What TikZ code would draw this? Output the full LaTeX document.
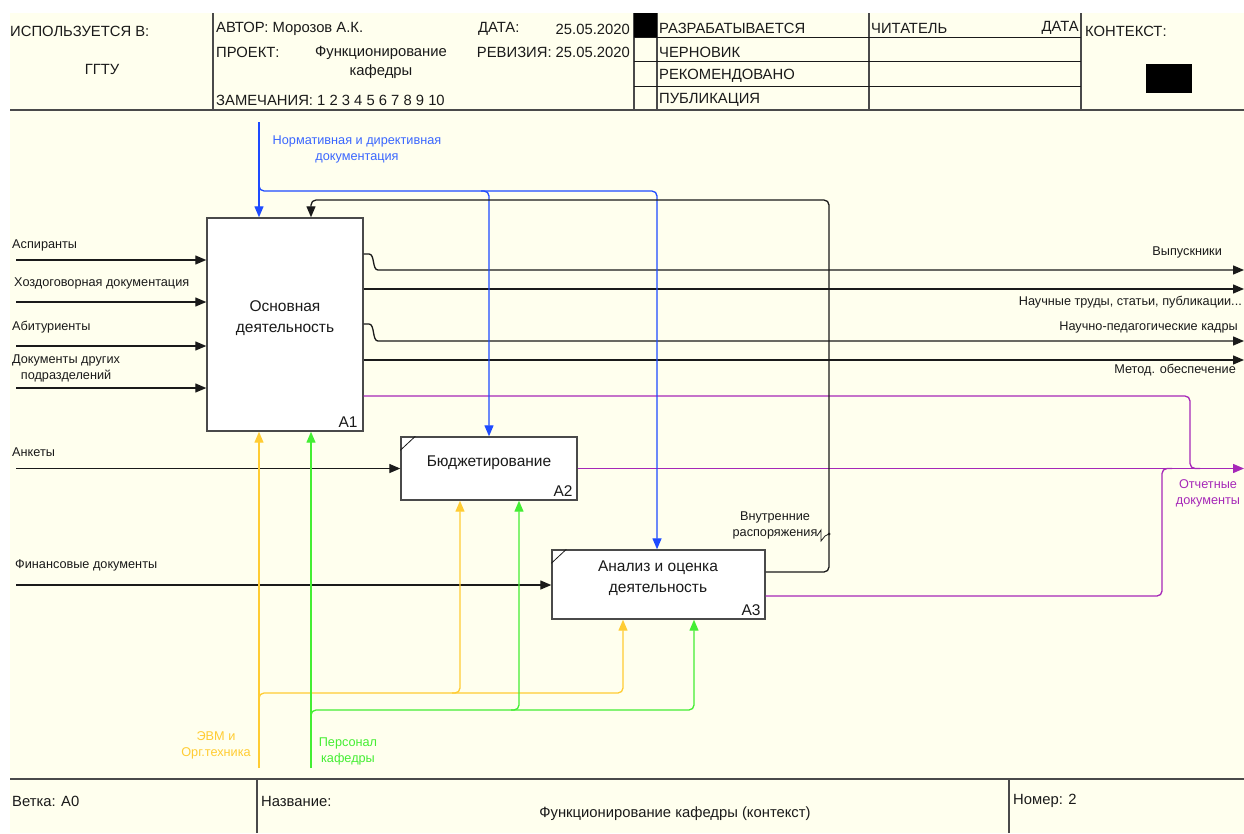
\documentclass[tikz,border=0pt]{standalone}
\usepackage{fontspec}
\setmainfont{Liberation Sans}
\usetikzlibrary{arrows.meta,calc}
\definecolor{paper}{HTML}{FFFFEE}
\definecolor{ink}{HTML}{1A1A1A}
\definecolor{frame}{HTML}{4A4A4A}
\definecolor{ctlblue}{HTML}{1E4BFF}
\definecolor{ctltext}{HTML}{3A66FF}
\definecolor{outpurple}{HTML}{A628B8}
\definecolor{mechyellow}{HTML}{FFCC33}
\definecolor{mechgreen}{HTML}{44EE33}
\begin{document}
\begin{tikzpicture}[x=1pt,y=-1pt,
  hdr/.style={font=\fontsize{14.8}{17}\selectfont, inner sep=0pt, text=ink},
  lbl/.style={font=\fontsize{12.7}{16}\selectfont, inner sep=0pt, text=ink, align=center},
  boxtxt/.style={font=\fontsize{15.5}{21}\selectfont, align=center, inner sep=0pt, text=ink},
  fbox/.style={draw=frame, fill=white, line width=1.4pt, inner sep=0pt},
  rule/.style={draw=frame, line width=1.3pt},
  thinrule/.style={draw=ink, line width=1pt},
  tip/.style={-{Triangle[length=11pt,width=9pt]}},
  link/.style={line width=1.3pt, draw=ink},
  ctl/.style={line width=1.3pt, draw=ctlblue},
  outp/.style={line width=1.3pt, draw=outpurple},
  mechy/.style={line width=1.3pt, draw=mechyellow},
  mechg/.style={line width=1.3pt, draw=mechgreen},
  corner/.style={rounded corners=5pt}
]
\useasboundingbox (0,0) rectangle (1244,833);
\fill[white] (0,0) rectangle (1244,833);
\fill[paper] (10,13) rectangle (1244,833);

% ---------- title block (top) ----------
\draw[rule] (10,110) -- (1244,110);
\draw[rule] (213,13) -- (213,110);
\draw[rule] (634,13) -- (634,110);
\draw[rule] (657,13) -- (657,110);
\draw[rule] (869,13) -- (869,110);
\draw[rule] (1081,13) -- (1081,110);
\foreach \yy in {37,61,86} \draw[thinrule] (634,\yy) -- (1081,\yy);
\fill[black] (634,13) rectangle (657,37);
\fill[black] (1146,64) rectangle (1192,93);

\node[hdr, anchor=west] (usedin) at (10,31) {ИСПОЛЬЗУЕТСЯ В:};
\node[hdr] (org) at (102,69) {ГГТУ};
\node[hdr, anchor=west] (author) at (216,29) {АВТОР: Морозов А.К.};
\node[hdr, anchor=west] (datelbl) at (478,29) {ДАТА:};
\node[hdr, anchor=east] (dateval) at (630,29) {25.05.2020};
\node[hdr, anchor=west] (projlbl) at (216,52) {ПРОЕКТ:};
\node[hdr, align=center, font=\fontsize{14.8}{19}\selectfont] (projval) at (381,62) {Функционирование\\кафедры};
\node[hdr, anchor=east] (rev) at (630,52) {РЕВИЗИЯ: 25.05.2020};
\node[hdr, anchor=west] (notes) at (216,100) {ЗАМЕЧАНИЯ: 1 2 3 4 5 6 7 8 9 10};
\node[hdr, anchor=west] (st1) at (659,28) {РАЗРАБАТЫВАЕТСЯ};
\node[hdr, anchor=west] (st2) at (659,52) {ЧЕРНОВИК};
\node[hdr, anchor=west] (st3) at (659,76) {РЕКОМЕНДОВАНО};
\node[hdr, anchor=west] (st4) at (659,100) {ПУБЛИКАЦИЯ};
\node[hdr, anchor=west] (reader) at (871,28) {ЧИТАТЕЛЬ};
\node[hdr, anchor=east] (rdate) at (1079,28) {ДАТА};
\node[hdr, anchor=west] (context) at (1085,31) {КОНТЕКСТ:};

% ---------- title block (bottom) ----------
\draw[rule] (10,779) -- (1244,779);
\draw[rule] (257,779) -- (257,833);
\draw[rule] (1009,779) -- (1009,833);
\node[hdr, anchor=west] (node) at (12,801) {Ветка: А0};
\node[hdr, anchor=west] (title) at (261,801) {Название:};
\node[hdr] (titleval) at (675,814) {Функционирование кафедры (контекст)};
\node[hdr, anchor=west] (number) at (1013,801) {Номер: 2};

% ---------- activity boxes ----------
\node[fbox, minimum width=156pt, minimum height=213pt] (A1) at (285,324.5) {};
\node[fbox, minimum width=176pt, minimum height=63pt] (A2) at (489,468.5) {};
\node[fbox, minimum width=213pt, minimum height=69pt] (A3) at (658.5,584.5) {};
\draw[ink, line width=0.8pt] ($(A2.north west)+(0,14)$) -- ($(A2.north west)+(15,0)$);
\draw[ink, line width=0.8pt] ($(A3.north west)+(0,14)$) -- ($(A3.north west)+(15,0)$);
\node[boxtxt] (A1t) at (285,318) {Основная\\деятельность};
\node[boxtxt, anchor=south east] (A1n) at ($(A1.south east)+(-6,-4)$) {A1};
\node[boxtxt] (A2t) at (489,463) {Бюджетирование};
\node[boxtxt, anchor=south east] (A2n) at ($(A2.south east)+(-5,-4)$) {A2};
\node[boxtxt] (A3t) at (658,578) {Анализ и оценка\\деятельность};
\node[boxtxt, anchor=south east] (A3n) at ($(A3.south east)+(-5,-4)$) {A3};

% ---------- inputs ----------
\coordinate (i1) at (16,260);
\coordinate (i2) at (16,302);
\coordinate (i3) at (16,346);
\coordinate (i4) at (16,388);
\coordinate (i5) at (16,468.5);
\coordinate (i6) at (16,585);
\draw[link,tip] (i1) -- (A1.west |- i1);
\draw[link,tip] (i2) -- (A1.west |- i2);
\draw[link,tip] (i3) -- (A1.west |- i3);
\draw[link,tip] (i4) -- (A1.west |- i4);
\draw[link,tip] (i5) -- (A2.west |- i5);
\draw[link,tip] (i6) -- (A3.west |- i6);
\node[lbl, anchor=west] (li1) at (12,245) {Аспиранты};
\node[lbl, anchor=west] (li2) at (14,283) {Хоздоговорная документация};
\node[lbl, anchor=west] (li3) at (12,327) {Абитуриенты};
\node[lbl, anchor=west] (li4) at (12,368) {Документы других\\подразделений};
\node[lbl, anchor=west] (li5) at (12,452) {Анкеты};
\node[lbl, anchor=west] (li6) at (15,565) {Финансовые документы};

% ---------- outputs of A1 ----------
\coordinate (o1) at (1244,270);
\coordinate (o2) at (1244,289);
\coordinate (o3) at (1244,341);
\coordinate (o4) at (1244,360);
\coordinate (o5) at (1244,468.5);
\draw[link,tip] (A1.east |- 0,254) -- (369,254) .. controls (375,254) and (372,270) .. (378,270) -- (o1);
\draw[link,tip] (A1.east |- o2) -- (o2);
\draw[link,tip] (A1.east |- 0,324) -- (369,324) .. controls (375,324) and (372,341) .. (378,341) -- (o3);
\draw[link,tip] (A1.east |- o4) -- (o4);
\node[lbl, anchor=east] (lo1) at (1222,252) {Выпускники};
\node[lbl, anchor=east] (lo2) at (1242,302) {Научные труды, статьи, публикации...};
\node[lbl, anchor=east] (lo3) at (1238,327) {Научно-педагогические кадры};
\node[lbl, anchor=east] (lo4) at (1236,370) {Метод. обеспечение};

% ---------- report documents (purple) ----------
\draw[outp,corner] (A1.east |- 0,396) -- (1190,396) -- (1190,468.5) -- (1200,468.5);
\draw[outp,corner] (A3.east |- 0,596) -- (1162,596) -- (1162,468.5) -- (1172,468.5);
\draw[outp,tip] (A2.east) -- (o5);
\node[lbl, text=outpurple] (lo5) at (1208,493) {Отчетные\\документы};

% ---------- controls (blue) ----------
\coordinate (c0) at (259,122);
\draw[ctl,tip] (c0) -- (A1.north -| c0);
\draw[ctl,corner,tip] (259,184) -- (259,191) -- (657,191) -- (A3.north -| 657,0);
\draw[ctl,corner,tip] (481,191) -- (489,191) -- (A2.north -| 489,0);
\node[lbl, text=ctltext] (lc0) at (357,149) {Нормативная и директивная\\документация};

% ---------- feedback: internal orders ----------
\draw[link,corner,tip] (A3.east |- 0,572) -- (829,572) -- (829,200) -- (311,200) -- (A1.north -| 311,0);
\node[lbl] (lfb) at (775,525) {Внутренние\\распоряжения};
\draw[ink, line width=0.8pt] (817,536) -- (821,530) -- (821,541) -- (825,536) -- (829,534);
\fill[ink] (829,534) circle (1.5pt);

% ---------- mechanisms ----------
\coordinate (m1) at (259,768);
\coordinate (m2) at (311,768);
\draw[mechy,tip] (m1) -- (A1.south -| m1);
\draw[mechy,corner,tip] (259,700) -- (259,693) -- (623,693) -- (A3.south -| 623,0);
\draw[mechy,corner,tip] (452,693) -- (460,693) -- (A2.south -| 460,0);
\draw[mechg,tip] (m2) -- (A1.south -| m2);
\draw[mechg,corner,tip] (311,717) -- (311,710) -- (694,710) -- (A3.south -| 694,0);
\draw[mechg,corner,tip] (511,710) -- (519,710) -- (A2.south -| 519,0);
\node[lbl, text=mechyellow] (lm1) at (216,745) {ЭВМ и\\Орг.техника};
\node[lbl, text=mechgreen] (lm2) at (348,751) {Персонал\\кафедры};
\end{tikzpicture}
\end{document}
